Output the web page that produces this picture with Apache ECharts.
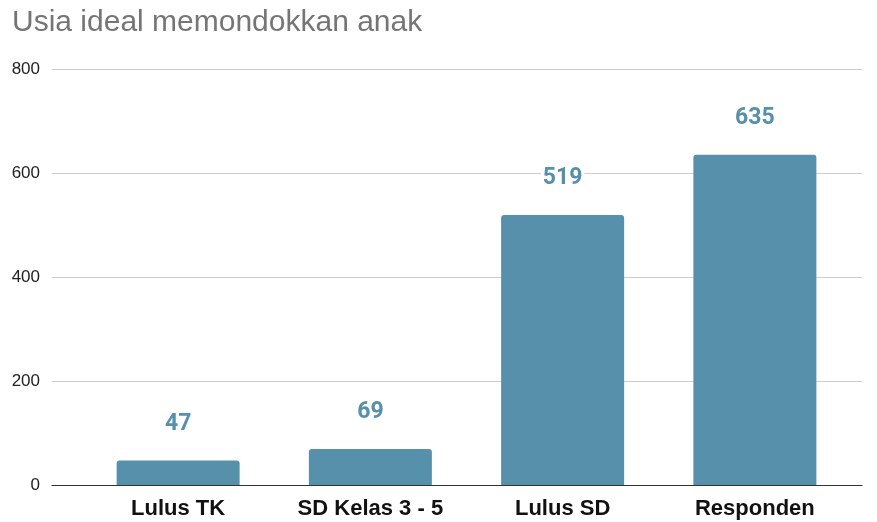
<!DOCTYPE html>
<html>
<head>
<meta charset="utf-8">
<script src="https://cdn.jsdelivr.net/npm/echarts@6/dist/echarts.min.js"></script>
<style>
  html, body { margin: 0; padding: 0; background: #fff; }
  #chart { width: 877px; height: 522px; }
</style>
</head>
<body>
<div id="chart"></div>
<script>
var categories = ['Lulus TK', 'SD Kelas 3 - 5', 'Lulus SD', 'Responden'];
var values = [47, 69, 519, 635];
var titleText = 'Usia ideal memondokkan anak';

var chart = echarts.init(document.getElementById('chart'));
chart.setOption({
    animation: false,
    title: {
        text: titleText,
        left: 7,
        top: 3,
        textStyle: {
            fontFamily: 'Liberation Sans, Arial, sans-serif',
            fontSize: 30,
            fontWeight: 'normal',
            color: '#757575'
        }
    },
    // grid 0: gridlines and y labels, grid 1: the bars
    grid: [
        { left: 52, right: 15, top: 69, bottom: 37 },
        { left: 82, right: 26, top: 69, bottom: 37 }
    ],
    xAxis: [
        {
            gridIndex: 0, type: 'value', min: 0, max: 1,
            axisLabel: { show: false }, axisTick: { show: false },
            splitLine: { show: false },
            axisLine: { show: true, onZero: false, lineStyle: { color: '#333', width: 1 } }
        },
        {
            gridIndex: 1, type: 'category', data: categories,
            axisLine: { show: false }, axisTick: { show: false },
            axisLabel: {
                margin: 13,
                fontFamily: 'Liberation Sans, Arial, sans-serif',
                fontSize: 22,
                fontWeight: 'bold',
                color: '#111'
            }
        }
    ],
    yAxis: [
        {
            gridIndex: 0, type: 'value', min: 0, max: 800, interval: 200,
            axisLine: { show: false }, axisTick: { show: false },
            axisLabel: {
                margin: 12,
                fontFamily: 'Liberation Sans, Arial, sans-serif',
                fontSize: 17,
                color: '#222'
            },
            splitLine: { lineStyle: { color: '#cccccc', width: 1 } }
        },
        {
            gridIndex: 1, type: 'value', min: 0, max: 800, interval: 200,
            show: false
        }
    ],
    series: [{
        type: 'bar',
        xAxisIndex: 1,
        yAxisIndex: 1,
        data: values,
        barWidth: 123,
        itemStyle: { color: '#5790ab', borderRadius: [3, 3, 0, 0] },
        label: {
            show: true,
            position: 'top',
            distance: 25,
            fontFamily: 'Roboto, sans-serif',
            fontSize: 23,
            fontWeight: 'bold',
            color: '#5790ab',
            backgroundColor: '#fff',
            padding: [0, 2]
        }
    }]
});
</script>
</body>
</html>
